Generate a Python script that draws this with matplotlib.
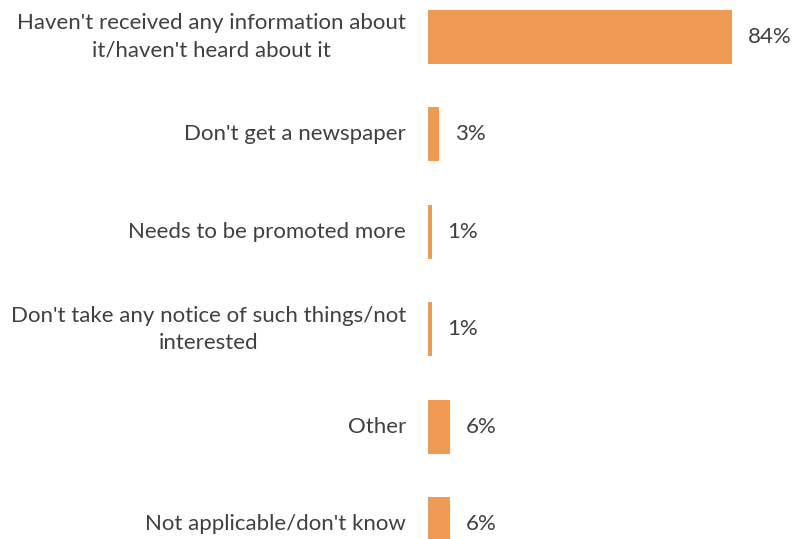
import matplotlib
matplotlib.use("Agg")
import matplotlib.pyplot as plt

categories = [
    "Haven't received any information about\nit/haven't heard about it",
    "Don't get a newspaper",
    "Needs to be promoted more",
    "Don't take any notice of such things/not\ninterested",
    "Other",
    "Not applicable/don't know",
]
values = [84, 3, 1, 1, 6, 6]
value_labels = ["84%", "3%", "1%", "1%", "6%", "6%"]

W, H = 796, 539
fig = plt.figure(figsize=(W / 100, H / 100), dpi=100)
left_px = 428
ax = fig.add_axes([left_px / W, 0, 1 - left_px / W, 1])

bar_color = "#EF9A55"
text_color = "#404040"
font = "Lato"

ypos = list(range(len(categories)))
ax.barh(ypos, values, height=0.555, color=bar_color, edgecolor="none")

px_per_cat = 97.4
first_center = 37
ax.set_ylim((H - first_center) / px_per_cat, -first_center / px_per_cat)
ax.set_xlim(0, (W - left_px) / 3.62)

for y, v, lab in zip(ypos, values, value_labels):
    ax.annotate(lab, (v, y), xytext=(16, 0), textcoords="offset pixels",
                ha="left", va="center", fontsize=16, color=text_color,
                family=font)

for y, cat in zip(ypos, categories):
    ax.annotate(cat, (0, y), xytext=(-22, 0), textcoords="offset pixels",
                ha="right", va="center", multialignment="center",
                fontsize=16, color=text_color, family=font,
                annotation_clip=False, linespacing=1.45)

ax.axis("off")
fig.savefig("out.png", dpi=100)
